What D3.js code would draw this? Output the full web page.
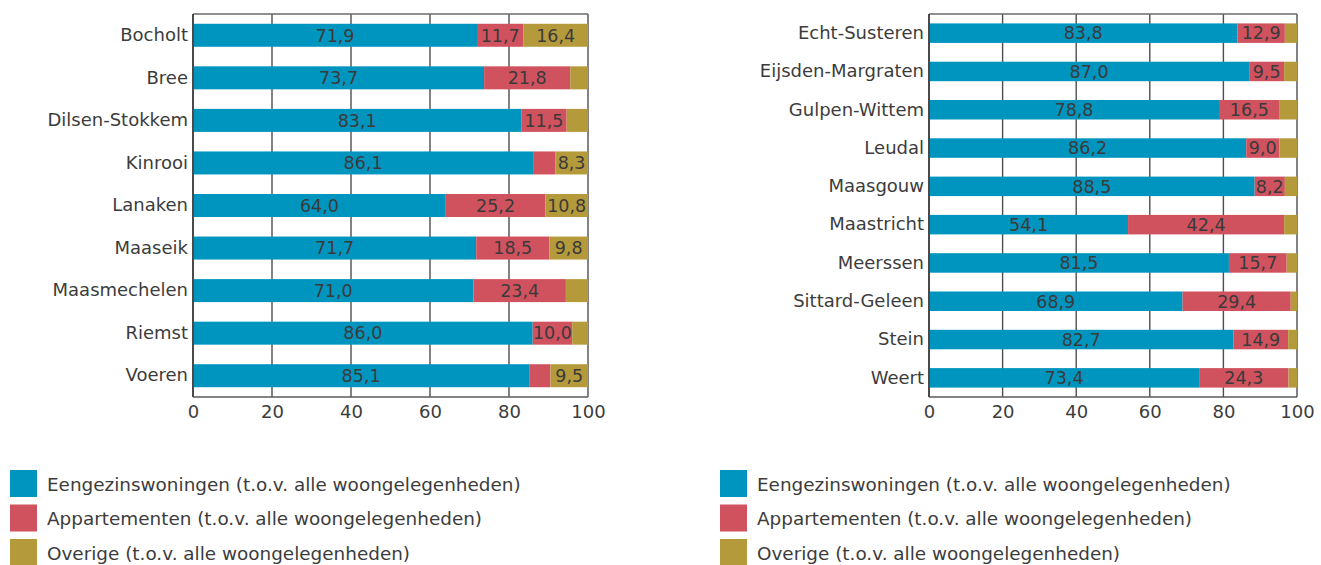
<!DOCTYPE html>
<html>
<head>
<meta charset="utf-8">
<script src="https://cdn.jsdelivr.net/npm/d3@7"></script>
<style>
  body { margin: 0; background: #fff; }
  svg { display: block; }
  text { font-family: "DejaVu Sans", Verdana, sans-serif; fill: #3c3c3c; }
</style>
</head>
<body>
<svg width="1321" height="565"></svg>
<script>
const svg = d3.select('svg');

// linker grafiek (Belgisch Limburg)
const catsLeft = ["Bocholt", "Bree", "Dilsen-Stokkem", "Kinrooi", "Lanaken", "Maaseik", "Maasmechelen", "Riemst", "Voeren"];
const eengLeft = [71.9, 73.7, 83.1, 86.1, 64.0, 71.7, 71.0, 86.0, 85.1];
const appLeft  = [11.7, 21.8, 11.5, 5.6, 25.2, 18.5, 23.4, 10.0, 5.4];
const overLeft = [16.4, 4.5, 5.4, 8.3, 10.8, 9.8, 5.6, 4.0, 9.5];

// rechter grafiek (Nederlands Limburg)
const catsRight = ["Echt-Susteren", "Eijsden-Margraten", "Gulpen-Wittem", "Leudal", "Maasgouw", "Maastricht", "Meerssen", "Sittard-Geleen", "Stein", "Weert"];
const eengRight = [83.8, 87.0, 78.8, 86.2, 88.5, 54.1, 81.5, 68.9, 82.7, 73.4];
const appRight  = [12.9, 9.5, 16.5, 9.0, 8.2, 42.4, 15.7, 29.4, 14.9, 24.3];
const overRight = [3.3, 3.5, 4.7, 4.8, 3.3, 3.5, 2.8, 1.7, 2.4, 2.3];

const seriesNames = [
    "Eengezinswoningen (t.o.v. alle woongelegenheden)",
    "Appartementen (t.o.v. alle woongelegenheden)",
    "Overige (t.o.v. alle woongelegenheden)"
];
const xTicks = [0, 20, 40, 60, 80, 100];
const colors = ["#0095bf", "#d0525f", "#b59a3c"];

const fmt = v => d3.format(".1f")(v).replace(".", ",");

const drawChart = (left, right, cats, values, barH, legendX) => {
    const top = 14, bottom = 397;
    const width = right - left, height = bottom - top;

    const rows = cats.map((c, i) => ({cat: c, s0: values[0][i], s1: values[1][i], s2: values[2][i]}));
    const stacked = d3.stack().keys(["s0", "s1", "s2"])(rows);

    const x = d3.scaleLinear().domain([0, 100]).range([0, width]);
    const y = d3.scaleBand().domain(cats).range([0, height]);
    const off = (y.bandwidth() - barH) / 2;

    const g = svg.append("g").attr("transform", "translate(" + left + "," + top + ")");

    // rasterlijnen
    g.append("g")
        .selectAll("line")
        .data(xTicks)
        .enter().append("line")
        .attr("x1", d => x(d)).attr("x2", d => x(d))
        .attr("y1", 0).attr("y2", height)
        .attr("stroke", "#4e4e4e")
        .attr("stroke-width", 1.4);

    g.append("line").attr("x1", 0).attr("x2", width).attr("y1", 0).attr("y2", 0)
        .attr("stroke", "#6a6a6a").attr("stroke-width", 1.5);
    g.append("line").attr("x1", 0).attr("x2", width).attr("y1", height).attr("y2", height)
        .attr("stroke", "#5a5a5a").attr("stroke-width", 1.5);

    const layer = g.selectAll(".layer")
        .data(stacked)
        .enter().append("g")
        .attr("fill", (d, i) => colors[i]);

    layer.selectAll("rect")
        .data(d => d)
        .enter().append("rect")
        .attr("x", d => x(d[0]))
        .attr("y", d => y(d.data.cat) + off)
        .attr("width", d => x(d[1]) - x(d[0]))
        .attr("height", barH);

    // waarden in de balken
    layer.selectAll("text")
        .data(d => d.filter(p => p[1] - p[0] >= 8))
        .enter().append("text")
        .attr("x", d => (x(d[0]) + x(d[1])) / 2)
        .attr("y", d => y(d.data.cat) + y.bandwidth() / 2)
        .attr("dy", "0.36em")
        .attr("text-anchor", "middle")
        .style("font-size", "17.5px")
        .style("fill", "#3a3a3a")
        .text(d => fmt(d[1] - d[0]));

    // linker as
    g.append("line").attr("x1", 0).attr("x2", 0).attr("y1", 0).attr("y2", height)
        .attr("stroke", "#4a4a4a").attr("stroke-width", 2);

    const yAxis = g.append("g").call(d3.axisLeft(y).tickSize(0).tickPadding(5));
    yAxis.select(".domain").remove();
    yAxis.selectAll("text").style("font-size", "18px").style("font-family", null).attr("fill", null);

    const xAxis = g.append("g")
        .attr("transform", "translate(0," + height + ")")
        .call(d3.axisBottom(x).tickValues(xTicks).tickSize(0).tickPadding(8));
    xAxis.select(".domain").remove();
    xAxis.selectAll("text").style("font-size", "18px").style("font-family", null).attr("fill", null);

    // legenda
    const leg = svg.append("g").attr("transform", "translate(" + legendX + ",470)");
    const item = leg.selectAll("g")
        .data(seriesNames)
        .enter().append("g")
        .attr("transform", (d, i) => "translate(0," + i * 34.5 + ")");
    item.append("rect")
        .attr("width", 27).attr("height", 27)
        .attr("fill", (d, i) => colors[i]);
    item.append("text")
        .attr("x", 37).attr("y", 14)
        .attr("dy", "0.36em")
        .style("font-size", "18.4px")
        .text(d => d);
};

drawChart(193, 588, catsLeft, [eengLeft, appLeft, overLeft], 23, 10);
drawChart(929, 1297, catsRight, [eengRight, appRight, overRight], 19.5, 720);
</script>
</body>
</html>
